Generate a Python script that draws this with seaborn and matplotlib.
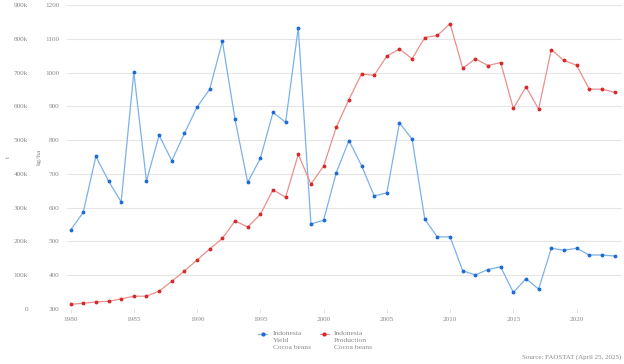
import matplotlib
matplotlib.use('Agg')
import matplotlib.pyplot as plt
from matplotlib.lines import Line2D
from matplotlib.ticker import FuncFormatter
import seaborn as sns
import numpy as np

# data
years = list(range(1980, 2024))
yield_kgha = [534, 586, 752, 679, 617, 1001, 679, 815, 739, 820,
              898, 951, 1093, 862, 675, 746, 882, 853, 1133, 552,
              563, 703, 799, 725, 635, 644, 851, 803, 566, 513,
              514, 413, 401, 417, 425, 349, 390, 359, 480, 474,
              480, 460, 460, 457]
production_t = [14e3, 17e3, 21e3, 23e3, 30e3, 38e3, 38e3, 53e3, 82e3, 113e3,
                145e3, 178e3, 209e3, 261e3, 243e3, 280e3, 353e3, 331e3, 458e3, 370e3,
                423e3, 538e3, 620e3, 696e3, 692e3, 749e3, 770e3, 741e3, 804e3, 810e3,
                845e3, 713e3, 741e3, 721e3, 730e3, 594e3, 658e3, 592e3, 768e3, 736e3,
                722e3, 651e3, 651e3, 642e3]
x_ticks = [1980, 1985, 1990, 1995, 2000, 2005, 2010, 2015, 2020]
legend_labels = ['Indonesia\nYield\nCocoa beans', 'Indonesia\nProduction\nCocoa beans']

sns.set_theme(style='white')
plt.rcParams['font.family'] = ['Liberation Serif', 'DejaVu Serif']

grey = '#8a8a8a'
blue_line, blue_dot = '#7ab2ea', '#1a68d0'
red_line, red_dot = '#ec8e8e', '#d42626'
ms = 2.0

fig = plt.figure(figsize=(6.24, 3.64), dpi=100)
ax = fig.add_axes([0.107, 0.151, 0.890, 0.835])
ax2 = ax.twinx()

sns.lineplot(x=years, y=yield_kgha, ax=ax, color=blue_line, linewidth=0.9,
             marker='o', markersize=ms, markerfacecolor=blue_dot,
             markeredgecolor=blue_dot)
sns.lineplot(x=years, y=production_t, ax=ax2, color=red_line, linewidth=0.9,
             marker='o', markersize=ms, markerfacecolor=red_dot,
             markeredgecolor=red_dot)

ax.set_xlim(1979.7, 2023.6)
ax.set_ylim(300, 1200)
ax2.set_ylim(0, 900e3)
ax.set_yticks(range(300, 1201, 100))
ax2.set_yticks(np.arange(0, 900001, 100000))
ax2.yaxis.set_major_formatter(FuncFormatter(lambda v, p: '0' if v == 0 else '%dk' % (v / 1000)))
ax.set_xticks(x_ticks)

ax.grid(axis='y', color='#e6e6e6', linewidth=0.8)
ax.grid(axis='x', visible=False)
for a in (ax, ax2):
    for s in a.spines.values():
        s.set_visible(False)

ax.tick_params(axis='y', length=0, labelsize=5.2, labelcolor=grey, pad=5.5)
ax.tick_params(axis='x', length=3, width=0.6, color='#dddddd', labelsize=5.2,
               labelcolor=grey, pad=3, bottom=True)
ax2.yaxis.tick_left()
ax2.yaxis.set_label_position('left')
ax2.spines['left'].set_position(('outward', 22.5))
ax2.tick_params(axis='y', length=0, labelsize=5.2, labelcolor=grey, pad=5.5)

ax.set_ylabel('kg/ha', fontsize=5.2, color=grey, labelpad=2)
ax2.set_ylabel('t', fontsize=5.2, color=grey, labelpad=2)

handles = [Line2D([], [], color=blue_line, marker='o', markersize=ms,
                  markerfacecolor=blue_dot, markeredgecolor=blue_dot, linewidth=0.9),
           Line2D([], [], color=red_line, marker='o', markersize=ms,
                  markerfacecolor=red_dot, markeredgecolor=red_dot, linewidth=0.9)]
leg = fig.legend(handles, legend_labels, loc='upper center', bbox_to_anchor=(0.505, 0.1),
                 ncol=2, frameon=False, fontsize=5.4, labelcolor=grey, handlelength=1.2,
                 handletextpad=0.7, columnspacing=1.2, borderpad=0)
for t in leg.get_texts():
    t.set_linespacing(1.45)
# put the legend marker next to the first line of each label
for col in leg._legend_handle_box.get_children():
    for row in col.get_children():
        row.align = 'top'

fig.text(0.995, 0.01, 'Source: FAOSTAT (April 25, 2025)', ha='right', va='bottom',
         fontsize=5, color=grey)

fig.savefig('out.png', dpi=100)
